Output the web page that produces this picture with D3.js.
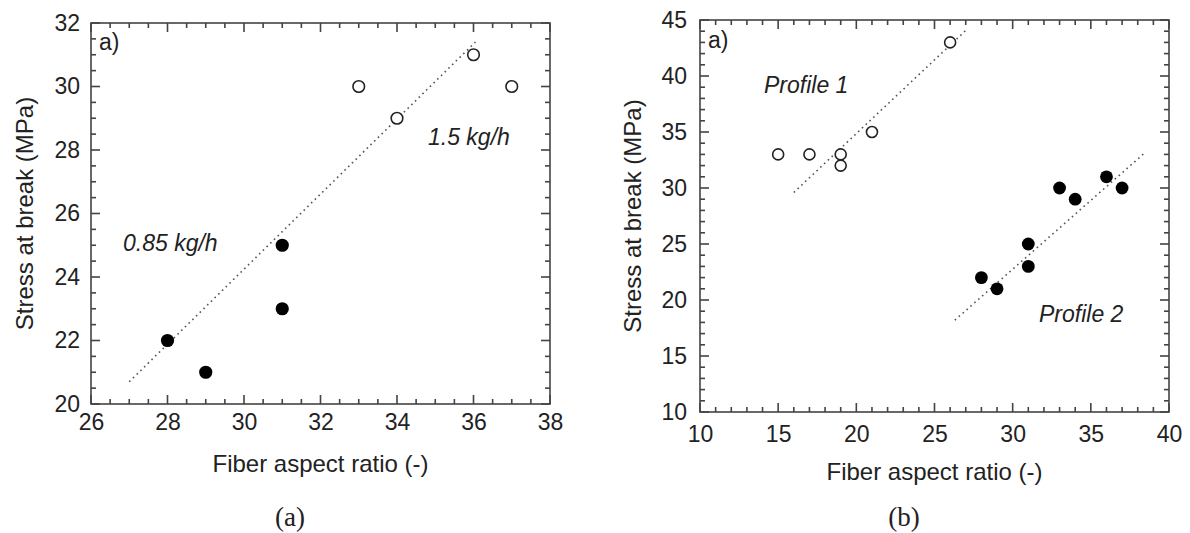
<!DOCTYPE html>
<html>
<head>
<meta charset="utf-8">
<script src="https://cdn.jsdelivr.net/npm/d3@7"></script>
<style>
  html, body { margin: 0; padding: 0; background: #ffffff; }
  svg { display: block; }
  text { font-family: "Liberation Sans", Arial, Helvetica, sans-serif; fill: #222; }
</style>
</head>
<body>
<svg id="chart" width="1190" height="533"></svg>
<script>
// ---------- Panel (a) data ----------
const aXDomain = [26, 38];
const aYDomain = [20, 32];
const aXTicks = [26, 28, 30, 32, 34, 36, 38];
const aYTicks = [20, 22, 24, 26, 28, 30, 32];
const aOpenX = [33, 34, 36, 37];          // 1.5 kg/h
const aOpenY = [30, 29, 31, 30];
const aFilledX = [28, 29, 31, 31];        // 0.85 kg/h
const aFilledY = [22, 21, 25, 23];
const aFitX = [27, 36.05];
const aFitY = [20.7, 31.4];
const aLabels = ["a)", "1.5 kg/h", "0.85 kg/h"];

// ---------- Panel (b) data ----------
const bXDomain = [10, 40];
const bYDomain = [10, 45];
const bXTicks = [10, 15, 20, 25, 30, 35, 40];
const bYTicks = [10, 15, 20, 25, 30, 35, 40, 45];
const bOpenX = [15, 17, 19, 19, 21, 26];  // Profile 1
const bOpenY = [33, 33, 33, 32, 35, 43];
const bFilledX = [28, 29, 31, 31, 33, 34, 36, 37]; // Profile 2
const bFilledY = [22, 21, 25, 23, 30, 29, 31, 30];
const bFit1X = [16, 27.1];
const bFit1Y = [29.6, 44.2];
const bFit2X = [26.3, 38.5];
const bFit2Y = [18.2, 33.2];
const bLabels = ["a)", "Profile 1", "Profile 2"];

const xTitle = "Fiber aspect ratio (-)";
const yTitle = "Stress at break (MPa)";
const captions = ["(a)", "(b)"];

const svg = d3.select("#chart");
const FRAME = "#444444";

function drawPanel(p) {
  const x = d3.scaleLinear().domain(p.xDomain).range([p.left, p.right]);
  const y = d3.scaleLinear().domain(p.yDomain).range([p.bottom, p.top]);
  const g = svg.append("g");

  const minorX = d3.range(p.xDomain[0], p.xDomain[1] + 1e-9, p.xMinor);
  const minorY = d3.range(p.yDomain[0], p.yDomain[1] + 1e-9, p.yMinor);

  // tick labels via d3 axes
  const ax = g.append("g").attr("transform", `translate(0,${p.bottom})`)
    .call(d3.axisBottom(x).tickValues(p.xTicks).tickSize(0).tickPadding(p.xPad).tickFormat(d3.format("d")));
  ax.select(".domain").remove();
  ax.selectAll("text").attr("font-size", 23).attr("fill", "#222")
    .style("font-family", "'Liberation Sans', Arial, sans-serif");

  const ay = g.append("g").attr("transform", `translate(${p.left},0)`)
    .call(d3.axisLeft(y).tickValues(p.yTicks).tickSize(0).tickPadding(p.yPad).tickFormat(d3.format("d")));
  ay.select(".domain").remove();
  ay.selectAll("text").attr("font-size", 23).attr("fill", "#222")
    .style("font-family", "'Liberation Sans', Arial, sans-serif");

  // inward tick marks on all four sides
  const isMajorX = v => p.xTicks.some(t => Math.abs(t - v) < 1e-6);
  const isMajorY = v => p.yTicks.some(t => Math.abs(t - v) < 1e-6);
  const tg = g.append("g").attr("class", "ticks").attr("fill", FRAME);
  const tw = 1.6;
  minorX.forEach(v => {
    const len = isMajorX(v) ? 9 : 5;
    const xv = x(v);
    tg.append("rect").attr("x", xv - tw / 2).attr("y", p.bottom - len).attr("width", tw).attr("height", len);
    tg.append("rect").attr("x", xv - tw / 2).attr("y", p.top).attr("width", tw).attr("height", len);
  });
  minorY.forEach(v => {
    const len = isMajorY(v) ? 9 : 5;
    const yv = y(v);
    tg.append("rect").attr("x", p.left).attr("y", yv - tw / 2).attr("width", len).attr("height", tw);
    tg.append("rect").attr("x", p.right - len).attr("y", yv - tw / 2).attr("width", len).attr("height", tw);
  });

  // frame
  g.append("rect")
    .attr("x", p.left).attr("y", p.top)
    .attr("width", p.right - p.left).attr("height", p.bottom - p.top)
    .attr("fill", "none").attr("stroke", FRAME).attr("stroke-width", 1.6);

  // fit lines (dotted)
  const line = d3.line().x(d => x(d[0])).y(d => y(d[1]));
  p.fits.forEach(f => {
    g.append("path")
      .datum(f[0].map((v, i) => [v, f[1][i]]))
      .attr("d", line)
      .attr("fill", "none")
      .attr("stroke", "#555")
      .attr("stroke-width", 1.6)
      .attr("stroke-dasharray", "1.6 3.6");
  });

  // open circles
  g.selectAll(null).data(p.openX.map((v, i) => [v, p.openY[i]])).enter()
    .append("circle")
    .attr("cx", d => x(d[0])).attr("cy", d => y(d[1]))
    .attr("r", p.openR)
    .attr("fill", "#fff").attr("stroke", "#222").attr("stroke-width", 1.6);

  // filled circles
  g.selectAll(null).data(p.filledX.map((v, i) => [v, p.filledY[i]])).enter()
    .append("circle")
    .attr("cx", d => x(d[0])).attr("cy", d => y(d[1]))
    .attr("r", p.filledR)
    .attr("fill", "#000");

  // panel letter
  g.append("text").attr("x", p.left + p.letterDx).attr("y", p.top + p.letterDy)
    .attr("font-size", 23).text(p.labels[0]);

  // annotation labels
  p.annot.forEach((a, i) => {
    g.append("text").attr("x", a[0]).attr("y", a[1])
      .attr("font-size", 23).attr("font-style", "italic")
      .text(p.labels[i + 1]);
  });

  // axis titles
  g.append("text")
    .attr("x", (p.left + p.right) / 2).attr("y", p.xTitleY)
    .attr("text-anchor", "middle").attr("font-size", 24).text(xTitle);
  g.append("text")
    .attr("transform", `translate(${p.yTitleX},${(p.top + p.bottom) / 2}) rotate(-90)`)
    .attr("text-anchor", "middle").attr("font-size", 24).text(yTitle);

  // caption
  svg.append("text")
    .attr("x", p.captionX).attr("y", 526)
    .attr("text-anchor", "middle")
    .attr("font-size", 27)
    .style("font-family", "'Liberation Serif', 'Times New Roman', serif")
    .attr("fill", "#111")
    .text(p.caption);
}

drawPanel({
  xDomain: aXDomain, yDomain: aYDomain, xTicks: aXTicks, yTicks: aYTicks,
  xMinor: 0.5, yMinor: 0.5,
  left: 91, right: 550, top: 23, bottom: 404,
  xPad: 10, yPad: 11,
  openX: aOpenX, openY: aOpenY, filledX: aFilledX, filledY: aFilledY,
  openR: 5.8, filledR: 6.6,
  fits: [[aFitX, aFitY]],
  labels: aLabels,
  letterDx: 8, letterDy: 27,
  annot: [[428, 145], [123, 251]],
  xTitleY: 472, yTitleX: 33,
  captionX: 290, caption: captions[0]
});

drawPanel({
  xDomain: bXDomain, yDomain: bYDomain, xTicks: bXTicks, yTicks: bYTicks,
  xMinor: 1, yMinor: 1,
  left: 700, right: 1169, top: 20, bottom: 412,
  xPad: 14, yPad: 13,
  openX: bOpenX, openY: bOpenY, filledX: bFilledX, filledY: bFilledY,
  openR: 5.5, filledR: 6.4,
  fits: [[bFit1X, bFit1Y], [bFit2X, bFit2Y]],
  labels: bLabels,
  letterDx: 8, letterDy: 28,
  annot: [[764, 93], [1039, 322]],
  xTitleY: 480, yTitleX: 641,
  captionX: 904, caption: captions[1]
});
</script>
</body>
</html>
